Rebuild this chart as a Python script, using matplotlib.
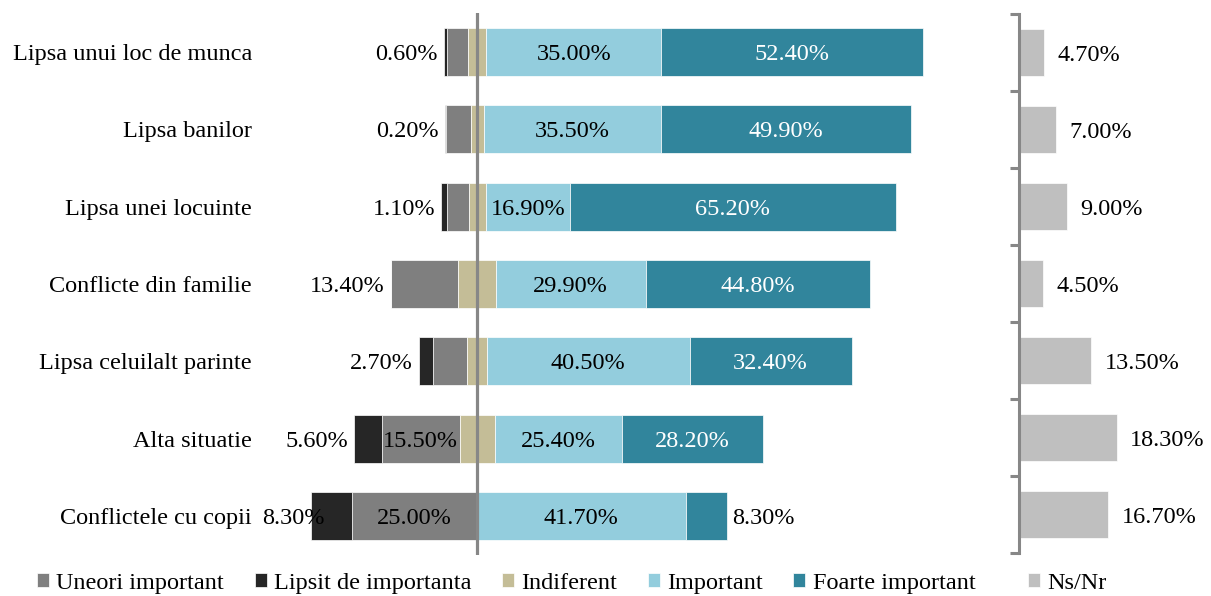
import matplotlib.pyplot as plt
import numpy as np

# data (top row first)
categories = ["Lipsa unui loc de munca", "Lipsa banilor", "Lipsa unei locuinte",
              "Conflicte din familie", "Lipsa celuilalt parinte", "Alta situatie",
              "Conflictele cu copii"]
lipsit = [0.6, 0.2, 1.1, 0.0, 2.7, 5.6, 8.3]
uneori = [4.2, 5.0, 4.4, 13.4, 6.9, 15.5, 25.0]
indif = [3.7, 2.6, 3.4, 7.6, 4.0, 7.0, 0.0]
important = [35.0, 35.5, 16.9, 29.9, 40.5, 25.4, 41.7]
foarte = [52.4, 49.9, 65.2, 44.8, 32.4, 28.2, 8.3]
nsnr = [4.7, 7.0, 9.0, 4.5, 13.5, 18.3, 16.7]

C_LIPSIT = "#262626"
C_UNEORI = "#7F7F7F"
C_INDIF = "#C4BD97"
C_IMP = "#93CDDD"
C_FOARTE = "#31859C"
C_NS = "#BFBFBF"
C_AXIS = "#878787"

FS = 17.5
plt.rcParams["font.family"] = ["Liberation Serif", "DejaVu Serif"]

W, H = 1211, 596
fig = plt.figure(figsize=(W / 100, H / 100), dpi=100)

# main diverging panel, 5 px per percent, zero at x=477 px
ax_l, ax_r, ax_t, ax_b = 290, 990, 13, 555
ax = fig.add_axes([ax_l / W, 1 - ax_b / H, (ax_r - ax_l) / W, (ax_b - ax_t) / H])
ax.set_xlim((ax_l - 477) / 5, (ax_r - 477) / 5)
ax.set_ylim(len(categories) - 0.5, -0.5)

y = np.arange(len(categories))
lip = np.array(lipsit)
une = np.array(uneori)
ind = np.array(indif)
imp = np.array(important)
foa = np.array(foarte)

h = 0.62
kw = dict(height=h, edgecolor="white", linewidth=0.5)
start_ind = -ind / 2
start_une = start_ind - une
start_lip = start_une - lip
b_une = ax.barh(y, une, left=start_une, color=C_UNEORI, label="Uneori important", **kw)
b_lip = ax.barh(y, lip, left=start_lip, color=C_LIPSIT, label="Lipsit de importanta", **kw)
b_ind = ax.barh(y, ind, left=start_ind, color=C_INDIF, label="Indiferent", **kw)
b_imp = ax.barh(y, imp, left=ind / 2, color=C_IMP, label="Important", **kw)
b_foa = ax.barh(y, foa, left=ind / 2 + imp, color=C_FOARTE, label="Foarte important", **kw)

ax.axvline(0, color=C_AXIS, lw=2.3, zorder=3)

tk = dict(va="center_baseline", fontsize=FS)
for i in range(len(categories)):
    # outer left label
    val = lip[i] if lip[i] > 0 else une[i]
    x_lbl = max(start_lip[i] - 1.2, -30.5)
    ax.text(x_lbl, i, f"{val:.2f}%", ha="right", **tk)
    if lip[i] > 0 and une[i] >= 15:
        ax.text(start_une[i] + une[i] / 2, i, f"{une[i]:.2f}%", ha="center", **tk)
    ax.text(ind[i] / 2 + imp[i] / 2, i, f"{imp[i]:.2f}%", ha="center", **tk)
    x0 = ind[i] / 2 + imp[i]
    if foa[i] >= 10:
        ax.text(x0 + foa[i] / 2, i, f"{foa[i]:.2f}%", ha="center", color="white", **tk)
    else:
        ax.text(x0 + foa[i] + 1.0, i, f"{foa[i]:.2f}%", ha="left", **tk)

ax.set_yticks(y)
ax.set_yticklabels(categories, fontsize=FS, va="center_baseline")
ax.tick_params(axis="y", length=0, pad=(ax_l - 252) * 0.72)
ax.set_xticks([])
for s in ax.spines.values():
    s.set_visible(False)

# Ns/Nr panel
n_l, n_t, n_b = 1019, 14, 553
ax2 = fig.add_axes([n_l / W, 1 - n_b / H, (W - n_l) / W, (n_b - n_t) / H])
ax2.set_xlim(0, (W - n_l) / 5.35)
ax2.set_ylim(len(categories) - 0.5, -0.5)
b_ns = ax2.barh(y, nsnr, height=h, color=C_NS, label="Ns/Nr", edgecolor="white", linewidth=0.5)
for i, v in enumerate(nsnr):
    ax2.annotate(f"{v:.2f}%", (v, i), xytext=(9.5, 0), textcoords="offset points",
                 ha="left", **tk)
for k in ["top", "right", "bottom"]:
    ax2.spines[k].set_visible(False)
ax2.spines["left"].set_color(C_AXIS)
ax2.spines["left"].set_linewidth(2.2)
ax2.set_xticks([])
ax2.set_yticks(np.arange(-0.5, len(categories), 1.0))
ax2.tick_params(axis="y", direction="out", length=6.5, width=2.2, color=C_AXIS, labelleft=False)

# legends
leg_kw = dict(loc="lower left", frameon=False, fontsize=FS, handlelength=0.5,
              handleheight=0.55, handletextpad=0.3, borderpad=0.0, borderaxespad=0.0)
fig.legend(handles=[b_une, b_lip, b_ind, b_imp, b_foa], ncol=5, columnspacing=1.25,
           bbox_to_anchor=(37 / W, 0.004), **leg_kw)
fig.legend(handles=[b_ns], bbox_to_anchor=(1028 / W, 0.004), **leg_kw)

fig.savefig("out.png", dpi=100)
